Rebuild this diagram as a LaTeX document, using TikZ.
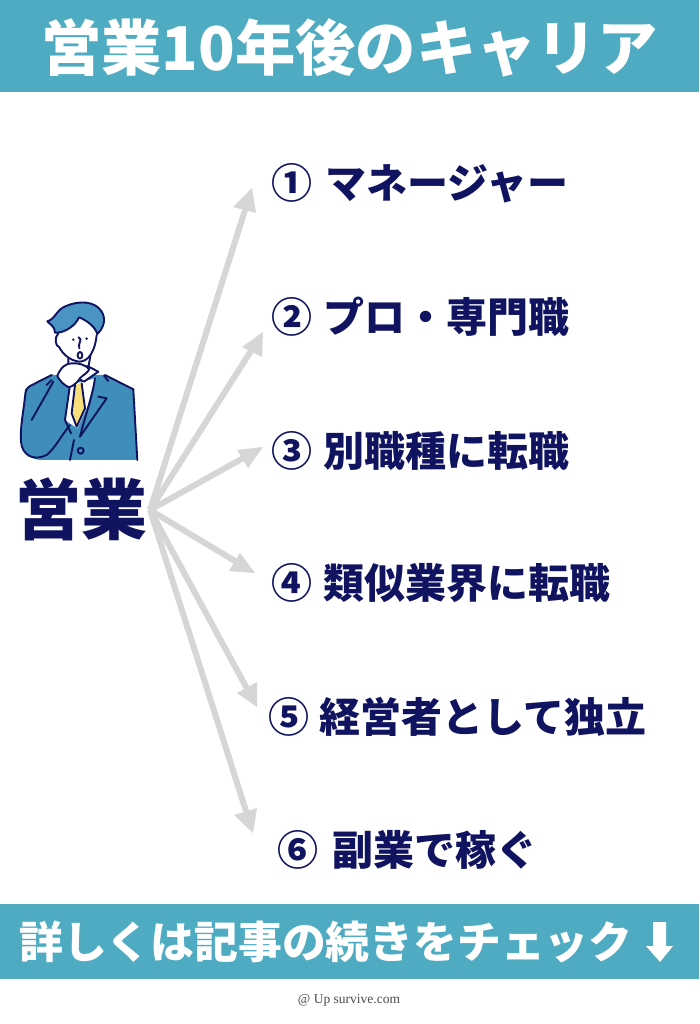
\documentclass[tikz,border=0pt]{standalone}
\usepackage{fontspec}
\setmainfont{Liberation Serif}
\newfontfamily\cjk{Noto Sans CJK JP}
\definecolor{band}{HTML}{4EABC1}
\definecolor{navy}{HTML}{0F1360}
\definecolor{suit}{HTML}{3F8DBB}
\definecolor{hair}{HTML}{4A94C4}
\definecolor{tie}{HTML}{F8DF7A}
\definecolor{arrowgrey}{HTML}{D6D6D6}
\tikzset{
 bandbox/.style={fill=band,draw=none},
 itemlabel/.style={anchor=west,inner sep=0pt,text=navy,font=\cjk\bfseries\fontsize{41}{41}\selectfont},
 bandtext/.style={anchor=west,inner sep=0pt,text=white},
 branch/.style={draw=arrowgrey,line width=6pt,shorten >=18pt},
 tipfill/.style={fill=arrowgrey,draw=none},
 outline/.style={draw=navy,line width=1.9pt,line join=round,line cap=round}
}
\begin{document}
\begin{tikzpicture}[x=1pt,y=-1pt]
\useasboundingbox (0,0) rectangle (699,1024);
\fill[white] (0,0) rectangle (699,1024);
\node[bandbox,minimum width=699pt,minimum height=92pt,anchor=north west,inner sep=0pt] (top) at (0,0) {};
\node[bandbox,minimum width=699pt,minimum height=75pt,anchor=north west,inner sep=0pt] (bottom) at (0,904) {};
\node[bandtext,font=\cjk\bfseries\fontsize{60.3}{60}\selectfont] (title) at (41,48) {営業10年後のキャリア};
\node[bandtext,font=\cjk\bfseries\fontsize{43.8}{44}\selectfont] (foot) at (19,942) {詳しくは記事の続きをチェック};
\fill[white] (653,922)--(666,922)--(666,946)--(673,946)--(660,962)--(646,946)--(653,946)--cycle;
\node[inner sep=0pt,text=black!70,font=\fontsize{13.5}{13.5}\selectfont] (credit) at (349,1000) {@ Up survive.com};
\node[inner sep=0pt,text=navy,font=\cjk\bfseries\fontsize{66}{66}\selectfont] (sales) at (81,509) {営業};
\coordinate (hub) at (150,510);
\node[itemlabel] (i1) at (271,183) {① \hspace{4pt}マネージャー};
\node[itemlabel] (i2) at (271,317) {② \hspace{2pt}プロ・専門職};
\node[itemlabel] (i3) at (271,451) {③ \hspace{2pt}別職種に転職};
\node[itemlabel] (i4) at (271,583) {④ \hspace{2pt}類似業界に転職};
\node[itemlabel] (i5) at (268,717) {⑤ \hspace{1pt}経営者として独立};
\node[itemlabel] (i6) at (277,850) {⑥ \hspace{5pt}副業で稼ぐ};
\foreach \tx/\ty/\ax/\ay/\bx/\by in {252/188/233/207/256/213,263/332/242/347/262/357,263/447/237/450/248/468,255/573/240/553/229/571,257/707/257/682/237/693,253/833/257/808/234/815}{
 \coordinate (tp) at (\tx,\ty);
 \draw[branch] (hub) -- (tp);
 \path[tipfill] (tp) -- (\ax,\ay) -- (\bx,\by) -- cycle;
}
\begin{scope}[shift={(0,280)},x=0.3333pt,y=-0.3333pt]
 % jacket
 \path[fill=suit] (75,328) -- (155,285) -- (315,285) -- (400,328) -- (412,540) -- (125,540) .. controls (85,540) and (62,510) .. (63,475) .. controls (62,420) and (72,370) .. (75,328) -- cycle;
 % shirt and tie
 \path[fill=white] (210,315) -- (285,295) -- (262,380) -- (232,445) -- (195,420) -- cycle;
 \path[fill=tie] (225,315) -- (245,310) -- (255,385) -- (230,440) -- (215,400) -- cycle;
 \draw[outline] (225,315) -- (215,400) -- (230,440) -- (255,385) -- (245,310);
 % jacket outline
 \draw[outline] (412,540) -- (400,328) -- (315,285);
 \draw[outline] (155,285) -- (90,318) .. controls (75,328) and (78,335) .. (75,350) .. controls (70,400) and (60,440) .. (63,485) .. controls (66,525) and (100,545) .. (140,525) .. controls (165,505) and (185,465) .. (210,435);
 \draw[outline] (95,420) -- (160,305) (140,315) -- (155,300);
 \draw[outline] (312,287) -- (325,303);
 % lapels
 \draw[outline] (285,295) .. controls (275,360) and (260,390) .. (240,470);
 \draw[outline] (240,470) -- (320,355) -- (295,350);
 \draw[outline] (210,315) -- (195,420) -- (213,460);
 \draw[outline] (222,480) -- (210,540);
 \draw[outline] (242,512) circle[radius=9];
 % neck, collar
 \draw[outline] (205,235) -- (205,250) (272,222) -- (266,258);
 \path[fill=white,outline] (262,258) -- (295,275) -- (252,305) -- (238,298) -- cycle;
 % hand
 \path[fill=white,outline] (172,288) .. controls (182,262) and (198,250) .. (215,250) .. controls (235,248) and (258,255) .. (268,268) .. controls (262,280) and (248,285) .. (240,295) .. controls (232,308) and (220,318) .. (207,322) .. controls (190,315) and (178,300) .. (172,288) -- cycle;
 % head
 \path[fill=white] (165,155) -- (240,110) -- (295,150) -- (290,175) .. controls (285,215) and (265,245) .. (238,245) .. controls (210,242) and (188,222) .. (178,202) -- (165,185) -- cycle;
 \draw[outline] (175,160) .. controls (163,172) and (165,198) .. (178,202) .. controls (188,222) and (210,242) .. (238,245) .. controls (265,245) and (285,215) .. (290,165);
 % hair
 \path[fill=hair,outline] (142,124) .. controls (165,118) and (170,88) .. (198,78) .. controls (240,60) and (285,65) .. (303,92) .. controls (318,112) and (315,140) .. (292,162) .. controls (285,140) and (262,122) .. (237,112) .. controls (228,135) and (195,160) .. (165,158) .. controls (165,140) and (152,135) .. (142,124) -- cycle;
 % face
 \fill[navy] (220,179) circle[radius=4] (260,176) circle[radius=4];
 \draw[outline] (236,172) .. controls (250,178) and (232,190) .. (238,205);
 \draw[outline] (240,226) ellipse[x radius=7,y radius=10];
\end{scope}
\end{tikzpicture}
\end{document}
